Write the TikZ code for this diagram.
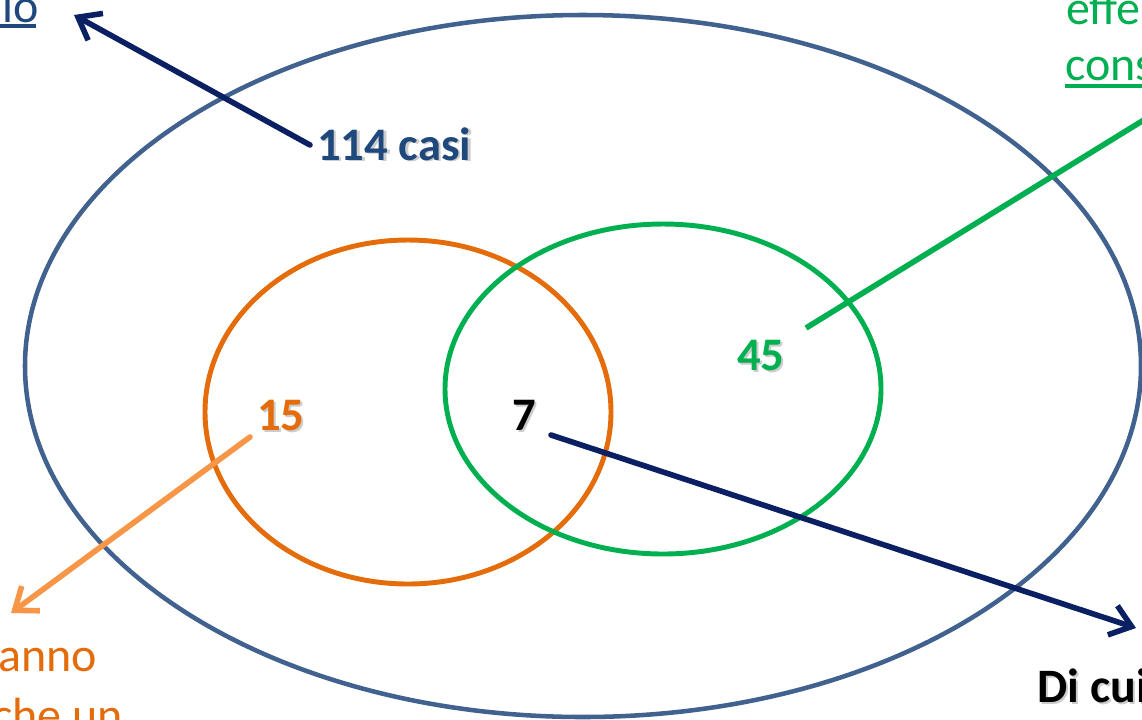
\documentclass[tikz,border=0pt]{standalone}
\usepackage{fontspec}
\setmainfont{Carlito}
\usetikzlibrary{arrows.meta}
\definecolor{bigblue}{HTML}{41618F}
\definecolor{navy}{HTML}{0B1F63}
\definecolor{orng}{HTML}{E46C0A}
\definecolor{lorng}{HTML}{F79646}
\definecolor{grn}{HTML}{00B050}
\definecolor{dblue}{HTML}{1F497D}
\tikzset{
  ring/.style={line width=3.4pt},
  arr/.style={line width=4.2pt, -{Straight Barb[length=15pt,width=23pt,line width=4.2pt]}, line cap=round},
  num/.style={anchor=base west, inner sep=0pt, font=\fontsize{35}{40}\selectfont\bfseries},
  shd/.style={anchor=base west, inner sep=0pt, font=\fontsize{35}{40}\selectfont\bfseries, text=black, opacity=0.2},
  lbl/.style={anchor=base west, inner sep=0pt, font=\fontsize{36}{44}\selectfont}
}
\begin{document}
\begin{tikzpicture}[x=0.75pt,y=-0.75pt]
\useasboundingbox (0,0) rectangle (1142,719);
\clip (0,0) rectangle (1142,719);
% ellipses
\draw[bigblue, ring] (583,366) ellipse [x radius=558, y radius=351];
\draw[orng, ring, line width=3.7pt] (408,412) ellipse [x radius=203, y radius=172];
\draw[grn, ring, line width=3.7pt] (663,389) ellipse [x radius=218, y radius=165];
% shadows
\node[shd] at (319.5,161.5) {114 casi};
\node[shd] at (259,432) {15};
\node[shd] at (514,432) {7};
\node[shd] at (739,372) {45};
\node[shd, font=\fontsize{36}{40}\selectfont\bfseries] at (1039,704) {Di cui};
% numbers
\node[num, text=dblue] (casi) at (317,160) {114 casi};
\node[num, text=orng] (n15) at (257,430) {15};
\node[num, text=black] (n7) at (512,430) {7};
\node[num, text=grn] (n45) at (737,370) {45};
\node[num, text=black, font=\fontsize{36}{40}\selectfont\bfseries] (dicui) at (1037,702) {Di cui};
% cut labels
\node[lbl, text=dblue] (io) at (2,22) {io};
\draw[dblue, line width=2.4pt] (0,26) -- (36,26);
\node[lbl, text=grn] (effe) at (1066,24) {effe};
\node[lbl, text=grn] (cons) at (1065,80) {cons};
\draw[grn, line width=2.4pt] (1065,86) -- (1142,86);
\node[lbl, text=orng] (anno) at (-2,671) {anno};
\node[lbl, text=orng] (cheun) at (-8,731) {che un};
% connector ends
\coordinate (a1s) at (310,145);
\coordinate (a1e) at (74,15);
\coordinate (g1s) at (806,328);
\coordinate (g1e) at (1160,110);
\coordinate (o1s) at (250,437);
\coordinate (o1e) at (11,613);
\coordinate (b1s) at (551,435);
\coordinate (b1e) at (1136,628);
\draw[arr, navy] (a1s) -- (a1e);
\draw[grn, line width=4.2pt] (g1s) -- (g1e);
\draw[arr, lorng] (o1s) -- (o1e);
\draw[arr, navy] (b1s) -- (b1e);
\end{tikzpicture}
\end{document}
